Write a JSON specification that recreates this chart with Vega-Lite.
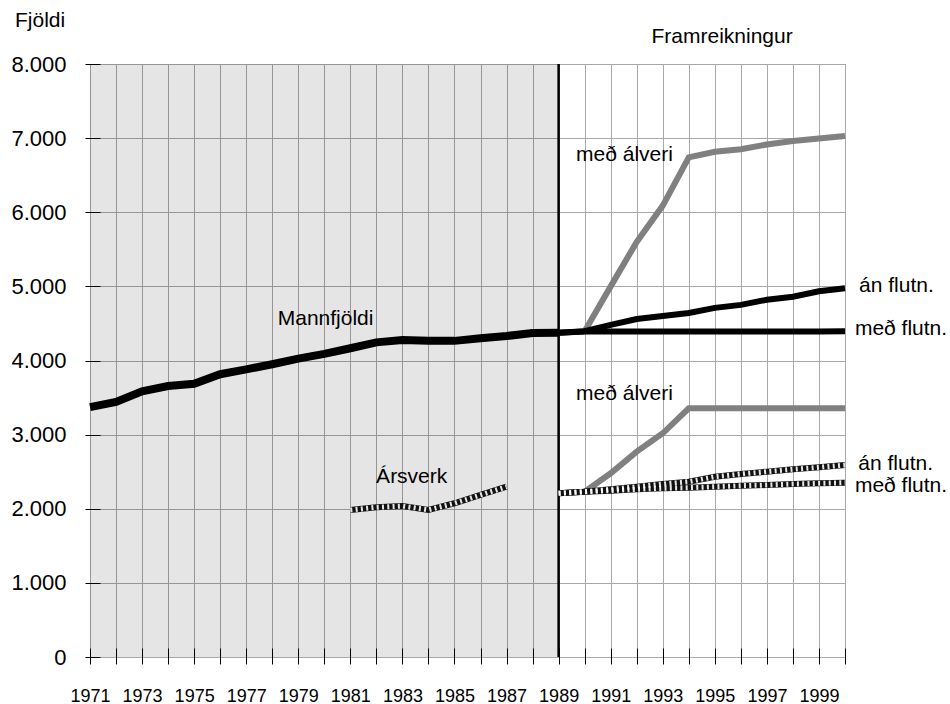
{
  "$schema": "https://vega.github.io/schema/vega-lite/v6.json",
  "width": 755,
  "height": 593,
  "autosize": "none",
  "padding": {"left": 90, "top": 64, "right": 105, "bottom": 47},
  "background": "white",
  "config": {
    "view": {"stroke": "#333", "strokeWidth": 1},
    "font": "Liberation Sans"
  },
  "datasets": {
    "shade": [{"year": 1971, "yearEnd": 1989, "v": 0, "vEnd": 8000}],
    "divider": [{"year": 1989, "v": 0, "vEnd": 8000}],
    "lines": [
      {"s": "pop", "year": 1971, "v": 3370},
      {"s": "pop", "year": 1972, "v": 3440},
      {"s": "pop", "year": 1973, "v": 3585},
      {"s": "pop", "year": 1974, "v": 3655},
      {"s": "pop", "year": 1975, "v": 3685},
      {"s": "pop", "year": 1976, "v": 3815},
      {"s": "pop", "year": 1977, "v": 3880},
      {"s": "pop", "year": 1978, "v": 3950},
      {"s": "pop", "year": 1979, "v": 4025},
      {"s": "pop", "year": 1980, "v": 4090},
      {"s": "pop", "year": 1981, "v": 4165},
      {"s": "pop", "year": 1982, "v": 4245},
      {"s": "pop", "year": 1983, "v": 4275},
      {"s": "pop", "year": 1984, "v": 4265},
      {"s": "pop", "year": 1985, "v": 4265},
      {"s": "pop", "year": 1986, "v": 4300},
      {"s": "pop", "year": 1987, "v": 4330},
      {"s": "pop", "year": 1988, "v": 4370},
      {"s": "pop", "year": 1989, "v": 4375},
      {"s": "pop_med", "year": 1989, "v": 4375},
      {"s": "pop_med", "year": 1990, "v": 4390},
      {"s": "pop_med", "year": 1991, "v": 4390},
      {"s": "pop_med", "year": 1992, "v": 4390},
      {"s": "pop_med", "year": 1993, "v": 4390},
      {"s": "pop_med", "year": 1994, "v": 4390},
      {"s": "pop_med", "year": 1995, "v": 4390},
      {"s": "pop_med", "year": 1996, "v": 4390},
      {"s": "pop_med", "year": 1997, "v": 4390},
      {"s": "pop_med", "year": 1998, "v": 4390},
      {"s": "pop_med", "year": 1999, "v": 4390},
      {"s": "pop_med", "year": 2000, "v": 4395},
      {"s": "pop_an", "year": 1989, "v": 4375},
      {"s": "pop_an", "year": 1990, "v": 4395},
      {"s": "pop_an", "year": 1991, "v": 4480},
      {"s": "pop_an", "year": 1992, "v": 4560},
      {"s": "pop_an", "year": 1993, "v": 4600},
      {"s": "pop_an", "year": 1994, "v": 4640},
      {"s": "pop_an", "year": 1995, "v": 4710},
      {"s": "pop_an", "year": 1996, "v": 4750},
      {"s": "pop_an", "year": 1997, "v": 4820},
      {"s": "pop_an", "year": 1998, "v": 4860},
      {"s": "pop_an", "year": 1999, "v": 4935},
      {"s": "pop_an", "year": 2000, "v": 4975},
      {"s": "pop_alv", "year": 1990, "v": 4395},
      {"s": "pop_alv", "year": 1991, "v": 5000},
      {"s": "pop_alv", "year": 1992, "v": 5600},
      {"s": "pop_alv", "year": 1993, "v": 6090},
      {"s": "pop_alv", "year": 1994, "v": 6740},
      {"s": "pop_alv", "year": 1995, "v": 6815},
      {"s": "pop_alv", "year": 1996, "v": 6850},
      {"s": "pop_alv", "year": 1997, "v": 6915},
      {"s": "pop_alv", "year": 1998, "v": 6960},
      {"s": "pop_alv", "year": 1999, "v": 6995},
      {"s": "pop_alv", "year": 2000, "v": 7030},
      {"s": "ars", "year": 1981, "v": 1983},
      {"s": "ars", "year": 1982, "v": 2020},
      {"s": "ars", "year": 1983, "v": 2037},
      {"s": "ars", "year": 1984, "v": 1985},
      {"s": "ars", "year": 1985, "v": 2074},
      {"s": "ars", "year": 1986, "v": 2186},
      {"s": "ars", "year": 1987, "v": 2297},
      {"s": "ars_med", "year": 1989, "v": 2208},
      {"s": "ars_med", "year": 1990, "v": 2230},
      {"s": "ars_med", "year": 1991, "v": 2244},
      {"s": "ars_med", "year": 1992, "v": 2262},
      {"s": "ars_med", "year": 1993, "v": 2276},
      {"s": "ars_med", "year": 1994, "v": 2284},
      {"s": "ars_med", "year": 1995, "v": 2297},
      {"s": "ars_med", "year": 1996, "v": 2311},
      {"s": "ars_med", "year": 1997, "v": 2320},
      {"s": "ars_med", "year": 1998, "v": 2334},
      {"s": "ars_med", "year": 1999, "v": 2343},
      {"s": "ars_med", "year": 2000, "v": 2351},
      {"s": "ars_an", "year": 1989, "v": 2208},
      {"s": "ars_an", "year": 1990, "v": 2230},
      {"s": "ars_an", "year": 1991, "v": 2262},
      {"s": "ars_an", "year": 1992, "v": 2297},
      {"s": "ars_an", "year": 1993, "v": 2334},
      {"s": "ars_an", "year": 1994, "v": 2365},
      {"s": "ars_an", "year": 1995, "v": 2432},
      {"s": "ars_an", "year": 1996, "v": 2469},
      {"s": "ars_an", "year": 1997, "v": 2500},
      {"s": "ars_an", "year": 1998, "v": 2532},
      {"s": "ars_an", "year": 1999, "v": 2559},
      {"s": "ars_an", "year": 2000, "v": 2590},
      {"s": "ars_alv", "year": 1990, "v": 2230},
      {"s": "ars_alv", "year": 1991, "v": 2478},
      {"s": "ars_alv", "year": 1992, "v": 2770},
      {"s": "ars_alv", "year": 1993, "v": 3018},
      {"s": "ars_alv", "year": 1994, "v": 3355},
      {"s": "ars_alv", "year": 1995, "v": 3355},
      {"s": "ars_alv", "year": 1996, "v": 3355},
      {"s": "ars_alv", "year": 1997, "v": 3355},
      {"s": "ars_alv", "year": 1998, "v": 3355},
      {"s": "ars_alv", "year": 1999, "v": 3355},
      {"s": "ars_alv", "year": 2000, "v": 3355}
    ],
    "labels": [
      {"t": "Fjöldi", "year": 1968.12, "v": 8499, "a": "left"},
      {"t": "Framreikningur", "year": 1995.28, "v": 8279, "a": "center"},
      {"t": "Mannfjöldi", "year": 1978.21, "v": 4479, "a": "left"},
      {"t": "Ársverk", "year": 1981.99, "v": 2343, "a": "left"},
      {"t": "með álveri", "year": 1989.67, "v": 6691, "a": "left"},
      {"t": "með álveri", "year": 1989.67, "v": 3467, "a": "left"},
      {"t": "án flutn.", "year": 2000.54, "v": 4928, "a": "left"},
      {"t": "með flutn.", "year": 2000.38, "v": 4344, "a": "left"},
      {"t": "án flutn.", "year": 2000.51, "v": 2525, "a": "left"},
      {"t": "með flutn.", "year": 2000.38, "v": 2222, "a": "left"}
    ]
  },
  "encoding": {
    "x": {
      "field": "year", "type": "quantitative",
      "scale": {"domain": [1971, 2000], "nice": false, "zero": false},
      "axis": {
        "title": null,
        "values": [1971,1972,1973,1974,1975,1976,1977,1978,1979,1980,1981,1982,1983,1984,1985,1986,1987,1988,1989,1990,1991,1992,1993,1994,1995,1996,1997,1998,1999,2000],
        "format": "d",
        "labelExpr": "datum.value % 2 == 1 ? datum.label : ''",
        "offset": -9,
        "tickSize": 16,
        "tickColor": "#000",
        "domain": false,
        "grid": true,
        "gridColor": "#a8a8a8",
        "gridOpacity": 1,
        "labelFontSize": 18,
        "labelColor": "#000",
        "labelPadding": 23,
        "labelFont": "Liberation Sans",
        "labelOverlap": false,
        "labelFlush": false,
        "labelBound": false
      }
    },
    "y": {
      "field": "v", "type": "quantitative",
      "scale": {"domain": [0, 8000], "nice": false},
      "axis": {
        "title": null,
        "values": [0,1000,2000,3000,4000,5000,6000,7000,8000],
        "labelExpr": "replace(format(datum.value, ','), ',', '.')",
        "offset": -10,
        "tickSize": 15,
        "tickColor": "#000",
        "domain": false,
        "grid": true,
        "gridColor": "#a8a8a8",
        "gridOpacity": 1,
        "labelFontSize": 22,
        "labelColor": "#000",
        "labelPadding": 19,
        "labelFont": "Liberation Sans",
        "labelOverlap": false,
        "labelFlush": false,
        "labelBound": false
      }
    }
  },
  "layer": [
    {
      "data": {"name": "shade"},
      "mark": {"type": "rect", "fill": "#000", "fillOpacity": 0.1},
      "encoding": {
        "x2": {"field": "yearEnd"},
        "y2": {"field": "vEnd"}
      }
    },
    {
      "data": {"name": "divider"},
      "mark": {"type": "rule", "color": "#000", "strokeWidth": 2.5},
      "encoding": {
        "y2": {"field": "vEnd"}
      }
    },
    {
      "data": {"name": "lines"},
      "transform": [{"filter": "datum.s == 'pop_alv' || datum.s == 'ars_alv'"}],
      "mark": {"type": "line", "color": "#808080", "strokeWidth": 6},
      "encoding": {
        "detail": {"field": "s"}
      }
    },
    {
      "data": {"name": "lines"},
      "transform": [{"filter": "datum.s == 'pop_med' || datum.s == 'pop_an'"}],
      "mark": {"type": "line", "color": "#000", "strokeWidth": 6},
      "encoding": {
        "detail": {"field": "s"}
      }
    },
    {
      "data": {"name": "lines"},
      "transform": [{"filter": "datum.s == 'pop'"}],
      "mark": {"type": "line", "color": "#000", "strokeWidth": 8},
      "encoding": {}
    },
    {
      "data": {"name": "lines"},
      "transform": [{"filter": "datum.s == 'ars' || datum.s == 'ars_med' || datum.s == 'ars_an'"}],
      "mark": {"type": "line", "color": "#111", "strokeWidth": 6},
      "encoding": {
        "detail": {"field": "s"}
      }
    },
    {
      "data": {"name": "lines"},
      "transform": [{"filter": "datum.s == 'ars' || datum.s == 'ars_med' || datum.s == 'ars_an'"}],
      "mark": {"type": "line", "color": "#fff", "strokeWidth": 5, "strokeDash": [2, 3.3], "opacity": 0.9},
      "encoding": {
        "detail": {"field": "s"}
      }
    },
    {
      "data": {"name": "labels"},
      "transform": [{"filter": "datum.a == 'left'"}],
      "mark": {"type": "text", "align": "left", "baseline": "alphabetic", "fontSize": 21, "font": "Liberation Sans", "color": "#000"},
      "encoding": {
        "text": {"field": "t"}
      }
    },
    {
      "data": {"name": "labels"},
      "transform": [{"filter": "datum.a == 'center'"}],
      "mark": {"type": "text", "align": "center", "baseline": "alphabetic", "fontSize": 21, "font": "Liberation Sans", "color": "#000"},
      "encoding": {
        "text": {"field": "t"}
      }
    }
  ]
}
